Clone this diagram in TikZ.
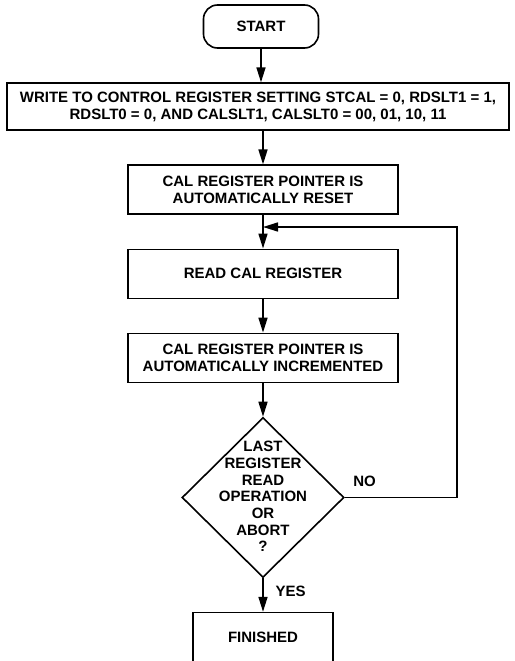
\documentclass[tikz,border=0pt]{standalone}
\usepackage{fontspec}
\setmainfont{Liberation Sans}
\usetikzlibrary{positioning,shapes.geometric,arrows.meta}

\begin{document}
\begin{tikzpicture}[node distance=33.5pt,
    txt/.style = {font=\bfseries\fontsize{15}{16.7}\selectfont, align=center},
    box/.style = {draw, line width=1.6pt, txt, minimum height=49pt, inner sep=2pt},
    term/.style = {box, rounded corners=14pt, minimum width=115pt, minimum height=43pt},
    decision/.style = {draw, line width=1.6pt, diamond, minimum width=162pt, minimum height=160pt, inner sep=0pt},
    flow/.style = {line width=1.6pt, -{Triangle[length=15pt,width=9pt]}}]
        \useasboundingbox (0,0) rectangle (514pt,-661pt);
        \node[term] (start) at (261pt,-26.5pt) {START};
        \node[box, minimum width=502pt, minimum height=47pt, xshift=-3pt] (write) [below=of start]
            {WRITE TO CONTROL REGISTER SETTING STCAL = 0, RDSLT1 = 1,\\
             RDSLT0 = 0, AND CALSLT1, CALSLT0 = 00, 01, 10, 11};
        \node[box, minimum width=270pt, xshift=5pt] (reset) [below=of write]
            {CAL REGISTER POINTER IS\\AUTOMATICALLY RESET};
        \node[box, minimum width=270pt] (read) [below=of reset] {READ CAL REGISTER};
        \node[box, minimum width=270pt] (incr) [below=of read]
            {CAL REGISTER POINTER IS\\AUTOMATICALLY INCREMENTED};
        \node[decision, label={[txt, yshift=1pt]center:LAST\\REGISTER\\READ\\OPERATION\\OR\\ABORT\\?}]
            (last) [below=of incr] {};
        \node[box, minimum width=140pt, minimum height=54pt, text height=11pt, text depth=6pt]
            (done) [below=of last] {FINISHED};
        \coordinate (loopin) at ([yshift=-12pt]reset.south);
        \node[txt, anchor=south west] (no) at ([xshift=5pt,yshift=7pt]last.east) {NO};
        \node[txt, anchor=north west] (yes) at ([xshift=9pt,yshift=-4pt]last.south) {YES};
        %
        \draw[flow] (start) -- (start |- write.north);
        \draw[flow] (reset |- write.south) -- (reset);
        \draw[flow] (reset) -- (read);
        \draw[flow] (read) -- (incr);
        \draw[flow] (incr) -- (last);
        \draw[flow] (last) -- (done);
        \draw[flow] (last.east) -- ++(112pt,0) |- (loopin);
      \end{tikzpicture}
\end{document}
